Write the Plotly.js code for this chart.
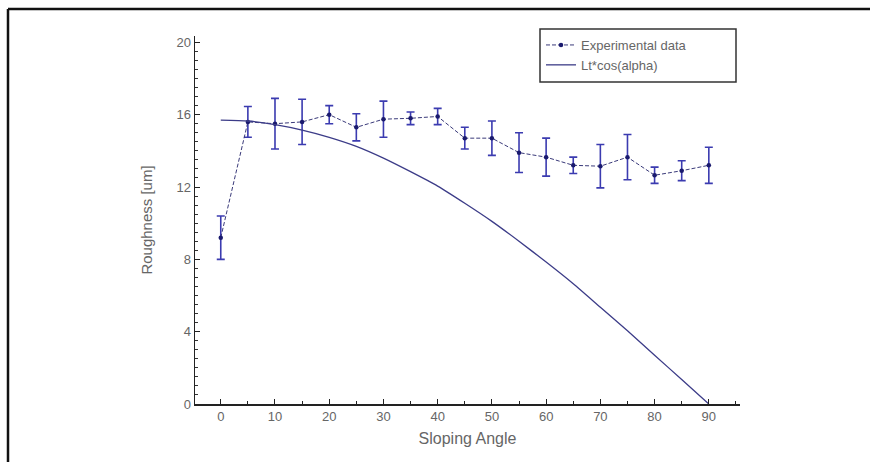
<!DOCTYPE html>
<html>
<head>
<meta charset="utf-8">
<script src="https://cdn.plot.ly/plotly-3.0.1.min.js"></script>
<style>
html,body{margin:0;padding:0;background:#fff;}
#chart{width:870px;height:462px;}
</style>
</head>
<body>
<div id="chart"></div>
<script>
const angles = [0,5,10,15,20,25,30,35,40,45,50,55,60,65,70,75,80,85,90];
const roughness = [9.2,15.6,15.5,15.6,16.0,15.3,15.75,15.8,15.9,14.7,14.7,13.9,13.65,13.2,13.15,13.65,12.65,12.9,13.2];
const roughnessErr = [1.2,0.85,1.4,1.25,0.5,0.75,1.0,0.35,0.45,0.6,0.95,1.1,1.05,0.45,1.2,1.25,0.45,0.55,1.0];
// Lt*cos(alpha) curve
const curveAngles = [0,5,10,15,20,25,30,35,40,45,50,55,60,65,70,75,80,85,90];
const curveValues = [15.7,15.65,15.45,15.15,14.75,14.25,13.6,12.85,12.05,11.1,10.1,9.0,7.85,6.65,5.35,4.05,2.7,1.35,0];
const xTicks = [0,10,20,30,40,50,60,70,80,90];
const yTicks = [0,4,8,12,16,20];

const L = 195, R = 740, T = 36, B = 404, W = 870, H = 462;
const px = v => (v - L) / (R - L);
const py = v => (B - v) / (B - T);

const traces = [
  {
    x: angles, y: roughness, name: 'Experimental data',
    type: 'scatter', mode: 'lines+markers',
    line: {color: '#3a3a7a', width: 1, dash: '4px,2px'},
    marker: {color: '#1a1a6e', size: 4.5, symbol: 'circle'},
    error_y: {type: 'data', array: roughnessErr, visible: true, color: '#3b3bb0', thickness: 1.6, width: 4}
  },
  {
    x: curveAngles, y: curveValues, name: 'Lt*cos(alpha)',
    type: 'scatter', mode: 'lines',
    line: {color: '#3c3c88', width: 1.3, shape: 'spline', smoothing: 0.6}
  }
];

const axisFont = {family: 'Liberation Sans, Arial, sans-serif', size: 13, color: '#666'};

const layout = {
  width: W, height: H,
  paper_bgcolor: '#fff', plot_bgcolor: '#fff',
  margin: {l: L, r: W - R, t: T, b: H - B, pad: 0},
  showlegend: true,
  legend: {
    x: px(541), y: py(30), xanchor: 'left', yanchor: 'top',
    bgcolor: 'rgba(0,0,0,0)', borderwidth: 0,
    font: {family: 'Liberation Sans, Arial, sans-serif', size: 13, color: '#666'},
    tracegroupgap: 0, itemwidth: 30
  },
  xaxis: {
    range: [-4.75, 95.75], tickvals: xTicks, ticktext: xTicks.map(String),
    showgrid: false, zeroline: false, showline: true, linecolor: '#222', linewidth: 1.5,
    ticks: 'inside', ticklen: 5, tickcolor: '#222', tickwidth: 1,
    minor: {dtick: 5, tick0: 0, ticks: 'inside', ticklen: 3, tickcolor: '#222', showgrid: false},
    tickfont: axisFont,
    title: {text: 'Sloping Angle', font: {family: 'Liberation Sans, Arial, sans-serif', size: 16, color: '#666'}, standoff: 9}
  },
  yaxis: {
    range: [0, 20.35], tickvals: yTicks, ticktext: yTicks.map(String),
    showgrid: false, zeroline: false, showline: true, linecolor: '#222', linewidth: 1.5,
    ticks: 'inside', ticklen: 5, tickcolor: '#222', tickwidth: 1,
    minor: {dtick: 0.5, tick0: 0, ticks: 'inside', ticklen: 3, tickcolor: '#333', showgrid: false},
    tickfont: axisFont,
    title: {text: 'Roughness [um]', font: {family: 'Liberation Sans, Arial, sans-serif', size: 15, color: '#666'}, standoff: 20}
  },
  shapes: [
    {type: 'rect', xref: 'paper', yref: 'paper', x0: px(540), x1: px(736), y0: py(29), y1: py(82), line: {color: '#333', width: 1.5}, fillcolor: 'rgba(0,0,0,0)'},
    {type: 'line', xref: 'paper', yref: 'paper', x0: px(8), x1: px(870), y0: py(9), y1: py(9), line: {color: '#111', width: 2.5}},
    {type: 'line', xref: 'paper', yref: 'paper', x0: px(8), x1: px(8), y0: py(9), y1: py(462), line: {color: '#111', width: 2.5}}
  ]
};

Plotly.newPlot('chart', traces, layout, {displayModeBar: false, staticPlot: true});
</script>
</body>
</html>
